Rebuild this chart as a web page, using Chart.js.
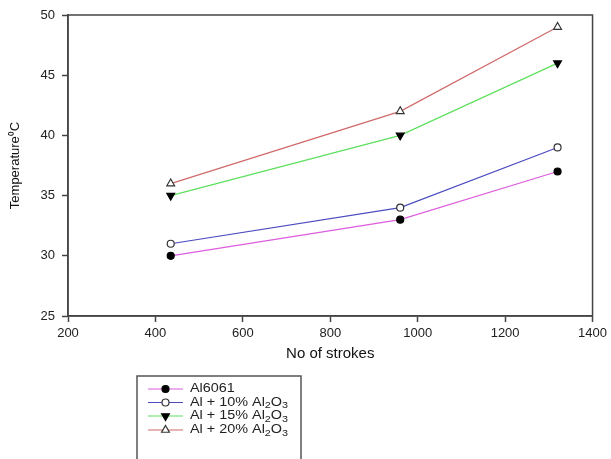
<!DOCTYPE html>
<html>
<head>
<meta charset="utf-8">
<script src="https://cdn.jsdelivr.net/npm/chart.js@4/dist/chart.umd.min.js"></script>
<style>
  html, body { margin: 0; padding: 0; background: #fff; }
  #wrap { width: 611px; height: 459px; position: relative; }
</style>
</head>
<body>
<div id="wrap"><canvas id="c" width="611" height="459"></canvas></div>
<script>
// ---- data ----
const strokes = [435, 960, 1320];
const al6061 = [30, 33, 37];
const al10 = [31, 34, 39];
const al15 = [35, 40, 46];
const al20 = [36, 42, 49];
const seriesLabels = ["Al6061", "Al + 10% Al\u2082O\u2083", "Al + 15% Al\u2082O\u2083", "Al + 20% Al\u2082O\u2083"];
const xTicks = [200, 400, 600, 800, 1000, 1200, 1400];
const yTicks = [25, 30, 35, 40, 45, 50];

const FONT = "'Liberation Sans', Arial, sans-serif";
const AXIS = '#444';

function pts(ys) { return strokes.map((x, i) => ({ x: x, y: ys[i] })); }

const styles = [
  { color: '#dd5edd', pointStyle: 'circle', bg: '#000', border: '#000', radius: 3.5, rot: 0 },
  { color: '#4c4cc0', pointStyle: 'circle', bg: '#fff', border: '#333', radius: 3.5, rot: 0 },
  { color: '#5ee05e', pointStyle: 'triangle', bg: '#000', border: '#000', radius: 4.5, rot: 180 },
  { color: '#d06a6a', pointStyle: 'triangle', bg: '#fff', border: '#333', radius: 4.5, rot: 0 }
];
const seriesData = [al6061, al10, al15, al20];

const datasets = seriesData.map((d, i) => ({
  label: seriesLabels[i],
  data: pts(d),
  borderColor: styles[i].color,
  borderWidth: 1.2,
  pointStyle: styles[i].pointStyle,
  pointRotation: styles[i].rot,
  pointRadius: styles[i].radius,
  pointBackgroundColor: styles[i].bg,
  pointBorderColor: styles[i].border,
  pointBorderWidth: 1.2,
  tension: 0,
  fill: false
}));

const framePlugin = {
  id: 'frame',
  afterDatasetsDraw(chart) {
    const { ctx, chartArea: a } = chart;
    ctx.save();
    ctx.strokeStyle = AXIS;
    ctx.lineWidth = 1.5;
    ctx.strokeRect(a.left, a.top, a.right - a.left, a.bottom - a.top);
    ctx.restore();
  }
};

// draws text with unicode subscript digits rendered as small lowered digits,
// stretched horizontally to match the reference's wide lettering
function drawRichText(ctx, text, x, y, stretch) {
  ctx.save();
  ctx.translate(x, y);
  ctx.scale(stretch, 1);
  let cx = 0;
  for (const ch of text) {
    const code = ch.charCodeAt(0);
    if (code >= 0x2080 && code <= 0x2089) {
      const d = String(code - 0x2080);
      ctx.font = '9px ' + FONT;
      ctx.fillText(d, cx, 3.5);
      cx += ctx.measureText(d).width;
    } else {
      ctx.font = '12px ' + FONT;
      ctx.fillText(ch, cx, 0);
      cx += ctx.measureText(ch).width;
    }
  }
  ctx.restore();
}

const legendPlugin = {
  id: 'customLegend',
  afterDraw(chart) {
    const { ctx } = chart;
    ctx.save();
    ctx.strokeStyle = '#555';
    ctx.lineWidth = 1.5;
    ctx.strokeRect(137, 376, 164, 100);
    const rowY = [389, 402.5, 416, 430];
    chart.data.datasets.forEach((ds, i) => {
      const y = rowY[i];
      ctx.save();
      ctx.strokeStyle = ds.borderColor;
      ctx.lineWidth = 1.2;
      ctx.beginPath();
      ctx.moveTo(148, y);
      ctx.lineTo(183, y);
      ctx.stroke();
      ctx.fillStyle = ds.pointBackgroundColor;
      ctx.strokeStyle = ds.pointBorderColor;
      ctx.lineWidth = ds.pointBorderWidth;
      Chart.helpers.drawPoint(ctx, {
        pointStyle: ds.pointStyle,
        rotation: ds.pointRotation,
        radius: ds.pointRadius,
        borderWidth: ds.pointBorderWidth
      }, 165.5, y);
      ctx.fillStyle = '#222';
      ctx.textBaseline = 'middle';
      ctx.textAlign = 'left';
      drawRichText(ctx, ds.label, 190, y, 1.2);
      ctx.restore();
    });
    ctx.restore();
  }
};

new Chart(document.getElementById('c'), {
  type: 'line',
  data: { datasets: datasets },
  plugins: [framePlugin, legendPlugin],
  options: {
    responsive: false,
    animation: false,
    layout: { padding: { left: 0, top: 15, right: 18, bottom: 94 } },
    plugins: { legend: { display: false }, tooltip: { enabled: false } },
    scales: {
      x: {
        type: 'linear',
        min: 200, max: 1400,
        afterBuildTicks(scale) { scale.ticks = xTicks.map(v => ({ value: v })); },
        afterFit(scale) { scale.height = 49; },
        ticks: { color: '#222', font: { family: FONT, size: 13 }, padding: 4, maxRotation: 0, callback: v => String(v) },
        grid: { drawOnChartArea: false, drawTicks: true, tickLength: 6, tickColor: AXIS, tickWidth: 1.5 },
        border: { display: true, color: AXIS, width: 1.5 },
        title: { display: true, text: 'No of strokes', color: '#111', font: { family: FONT, size: 15 }, padding: { top: 0, bottom: 2 } }
      },
      y: {
        type: 'linear',
        min: 25, max: 50,
        afterBuildTicks(scale) { scale.ticks = yTicks.map(v => ({ value: v })); },
        afterFit(scale) { scale.width = 68; },
        ticks: { color: '#222', font: { family: FONT, size: 13 }, padding: 7, callback: v => String(v) },
        grid: { drawOnChartArea: false, drawTicks: true, tickLength: 6, tickColor: AXIS, tickWidth: 1.5 },
        border: { display: true, color: AXIS, width: 1.5 },
        title: { display: true, text: 'Temperature\u2070C', color: '#111', font: { family: FONT, size: 13 }, padding: { top: 8, bottom: 0 } }
      }
    }
  }
});
</script>
</body>
</html>
